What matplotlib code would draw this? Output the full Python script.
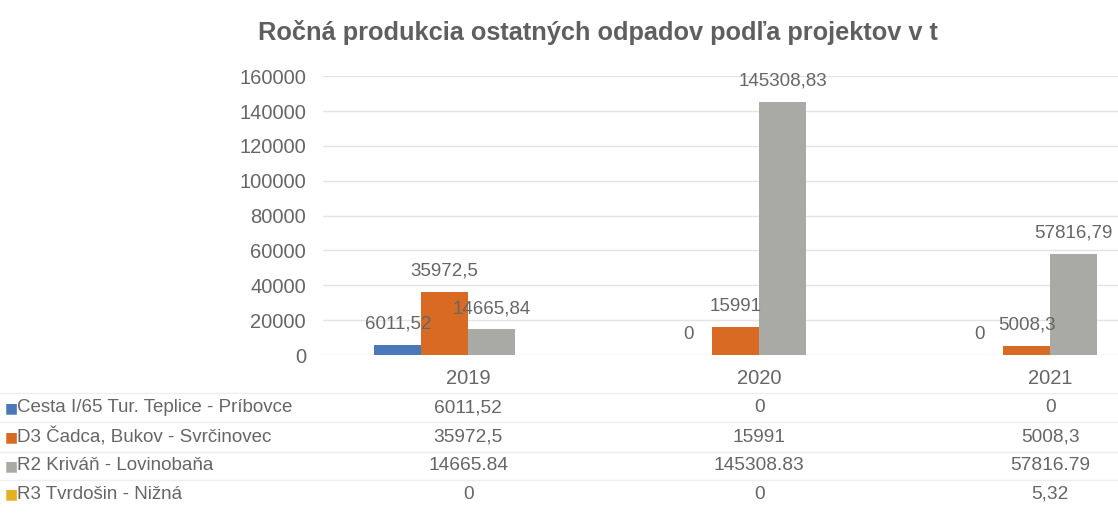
import matplotlib.pyplot as plt
import matplotlib.transforms as mtransforms
import numpy as np

plt.rcParams['font.family'] = ['Liberation Sans', 'DejaVu Sans']

years = ['2019', '2020', '2021']
series = ['Cesta I/65 Tur. Teplice - Príbovce', 'D3 Čadca, Bukov - Svrčinovec',
          'R2 Kriváň - Lovinobaňa', 'R3 Tvrdošin - Nižná']
cesta = [6011.52, 0, 0]
d3 = [35972.5, 15991, 5008.3]
r2 = [14665.84, 145308.83, 57816.79]
r3 = [0, 0, 5.32]
# labels as printed in the source (mixed decimal separators)
bar_labels = [['6011,52', '0', '0'], ['35972,5', '15991', '5008,3'],
              ['14665,84', '145308,83', '57816,79'], None]
table_labels = [['6011,52', '0', '0'], ['35972,5', '15991', '5008,3'],
                ['14665.84', '145308.83', '57816.79'], ['0', '0', '5,32']]
colors = ['#4a78b8', '#d96a24', '#a9aaa5', '#e3b122']

txt = '#666666'
fig = plt.figure(figsize=(11.18, 5.25), dpi=100)
ax = fig.add_axes([0.2885, 0.3238, 0.781, 0.531])

x = np.arange(len(years))
w = 0.161
values = [cesta, d3, r2, r3]
for i, vals in enumerate(values):
    xs = x + (i - 1.5) * w
    ax.bar(xs, vals, w, color=colors[i], zorder=3)
    if bar_labels[i] is None:
        continue
    for xi, v, lab in zip(xs, vals, bar_labels[i]):
        ax.annotate(lab, (xi, v), xytext=(0, 15), textcoords='offset points',
                    ha='center', va='center', fontsize=13.5, color=txt, zorder=4)

ax.set_xlim(-0.5, 2.5)
ax.set_ylim(0, 160000)
ax.set_yticks(np.arange(0, 160001, 20000))
ax.set_xticks(x)
ax.set_xticklabels(years)
ax.tick_params(axis='both', length=0, labelsize=14.5, labelcolor=txt)
ax.tick_params(axis='y', pad=12)
ax.tick_params(axis='x', pad=10)
ax.grid(axis='y', color='#e4e4e4', linewidth=1, zorder=0)
for s in ax.spines.values():
    s.set_visible(False)

fig.suptitle('Ročná produkcia ostatných odpadov podľa projektov v t', x=0.535, y=0.962,
             fontsize=18.3, fontweight='bold', color='#5f5f5f')

# data table under the chart
trans = mtransforms.blended_transform_factory(ax.transData, fig.transFigure)
row_y = [0.2229, 0.1676, 0.1124, 0.0590]
for i, name in enumerate(series):
    fig.text(0.0045, row_y[i], '\u25A0', color=colors[i], fontsize=10, va='center',
             family=['DejaVu Sans'])
    fig.text(0.0155, row_y[i], name, color=txt, fontsize=13.5, va='center')
    for xi, lab in zip(x, table_labels[i]):
        ax.text(xi, row_y[i], lab, transform=trans, ha='center', va='center',
                fontsize=13.8, color=txt, clip_on=False)
for ly in [0.2505, 0.1955, 0.140, 0.0855]:
    fig.add_artist(plt.Line2D([0, 1], [ly, ly], color='#eeeeee', linewidth=1))

fig.savefig('out.png', dpi=100, facecolor='white')
